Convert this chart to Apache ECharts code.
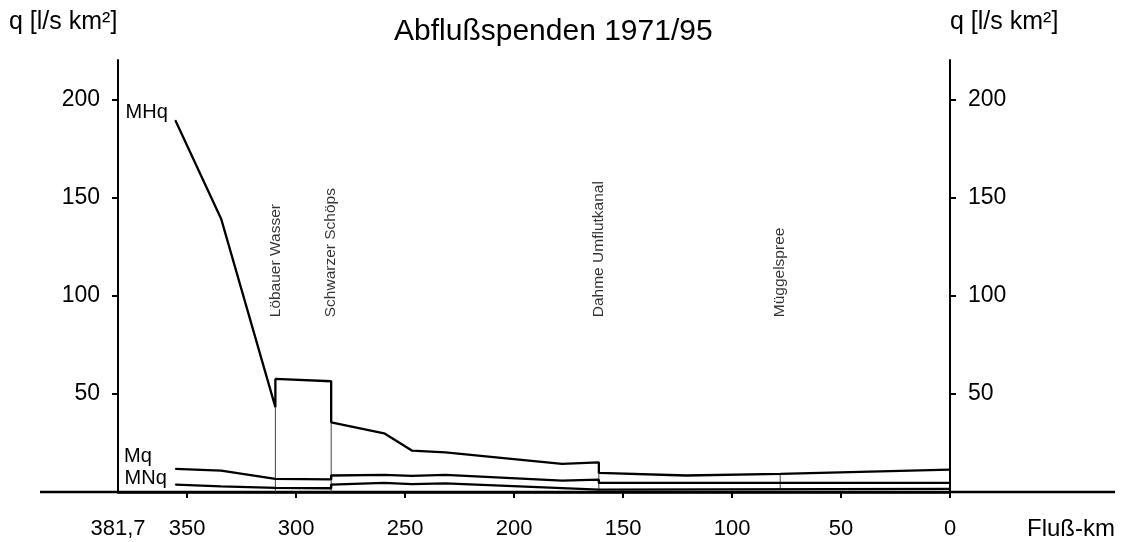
<!DOCTYPE html>
<html>
<head>
<meta charset="utf-8">
<script src="https://cdn.jsdelivr.net/npm/echarts@6/dist/echarts.min.js"></script>
<style>
  html, body { margin: 0; padding: 0; background: #fff; }
  #chart { width: 1123px; height: 542px; }
</style>
</head>
<body>
<div id="chart"></div>
<script>
// Fluß-km (reversed axis) and Abflußspende q [l/s km²]
const kmMHq = [355.4, 334.4, 309.5, 309.5, 283.9, 283.9, 259.6, 246.9, 231.5, 178.0, 161.1, 161.1, 121.1, 77.9, 0];
const qMHq  = [189.3, 139.2, 43.2, 57.6, 56.4, 35.5, 29.9, 21.1, 20.2, 14.3, 15.1, 9.7, 8.4, 9.2, 11.4];

const kmMq = [355.4, 334.4, 309.5, 283.9, 283.9, 259.6, 246.9, 231.5, 178.0, 161.1, 161.1, 0];
const qMq  = [11.8, 10.9, 6.7, 6.4, 8.4, 8.7, 8.2, 8.7, 5.8, 6.3, 4.6, 4.6];

const kmMNq = [355.4, 334.4, 309.5, 283.9, 283.9, 259.6, 246.9, 231.5, 161.1, 161.1, 0];
const qMNq  = [3.8, 2.9, 2.1, 1.9, 3.8, 4.6, 4.0, 4.4, 1.2, 1.6, 1.6];

// tributaries (Zuflüsse)
const tribNames  = ['Löbauer Wasser', 'Schwarzer Schöps', 'Dahme Umflutkanal', 'Müggelspree'];
const tribKm     = [309.5, 283.9, 161.1, 77.9];
const tribBottom = [0, 0, 0.7, 1.7];
const tribTop    = [43.2, 35.5, 9.7, 9.2];

const xTicks  = [0, 50, 100, 150, 200, 250, 300, 350];
const xLabels = [0, 50, 100, 150, 200, 250, 300, 350, 381.7];
const yTicks  = [50, 100, 150, 200];

const font = "'Liberation Sans', Arial, Helvetica, sans-serif";
const chart = echarts.init(document.getElementById('chart'));

function mainLine(name, km, q, lbl) {
  const data = km.map((k, i) => [k, q[i]]);
  data[0] = {
    value: data[0],
    symbol: 'circle',
    symbolSize: 1,
    label: {
      show: true,
      formatter: name,
      position: 'left',
      distance: lbl.distance,
      offset: [0, lbl.dy],
      color: '#000',
      fontSize: 20,
      fontFamily: font
    }
  };
  return {
    name: name,
    type: 'line',
    data: data,
    symbol: 'none',
    showSymbol: true,
    lineStyle: { color: '#000', width: 2.3 },
    itemStyle: { color: '#000' },
    silent: true,
    animation: false,
    z: 3
  };
}

const tribLines = tribKm.map((k, i) => ({
  type: 'line',
  data: [[k, tribBottom[i]], [k, tribTop[i]]],
  symbol: 'none',
  lineStyle: { color: '#444', width: 1 },
  silent: true,
  animation: false,
  z: 2
}));

const tribLabels = {
  type: 'scatter',
  data: tribKm.map((k, i) => ({ value: [k, 89], name: tribNames[i] })),
  symbolSize: 1,
  itemStyle: { color: 'rgba(0,0,0,0)' },
  label: {
    show: true,
    formatter: p => p.name,
    position: 'inside',
    rotate: 90,
    align: 'left',
    verticalAlign: 'middle',
    color: '#000',
    fontSize: 15.5,
    fontFamily: font
  },
  silent: true,
  animation: false
};

const yAxisBase = {
  type: 'value',
  min: 0,
  max: 220,
  interval: 50,
  splitLine: { show: false },
  axisLine: { show: true, onZero: false, lineStyle: { color: '#000', width: 2 } },
  axisTick: { show: true, inside: false, customValues: yTicks, length: 6, lineStyle: { color: '#000', width: 2 } },
  axisLabel: { customValues: yTicks, margin: 18, color: '#000', fontSize: 23, fontFamily: font }
};

chart.setOption({
  backgroundColor: '#fff',
  animation: false,
  title: [
    { text: 'Abflußspenden 1971/95', left: 389, top: 12,
      textStyle: { fontSize: 30, fontWeight: 'normal', color: '#000', fontFamily: font } },
    { text: 'q [l/s km²]', left: 4, top: 5,
      textStyle: { fontSize: 25, fontWeight: 'normal', color: '#000', fontFamily: font } },
    { text: 'q [l/s km²]', left: 945, top: 5,
      textStyle: { fontSize: 25, fontWeight: 'normal', color: '#000', fontFamily: font } },
    { text: 'Fluß-km', left: 1022, top: 512,
      textStyle: { fontSize: 24, fontWeight: 'normal', color: '#000', fontFamily: font } }
  ],
  grid: { left: 118, right: 173, top: 60, bottom: 50, outerBoundsMode: 'none' },
  xAxis: {
    type: 'value',
    inverse: true,
    min: 0,
    max: 381.7,
    interval: 50,
    splitLine: { show: false },
    axisLine: { show: true, onZero: false, lineStyle: { color: '#000', width: 2.5 } },
    axisTick: { show: true, customValues: xTicks, length: 6, lineStyle: { color: '#000', width: 2 } },
    axisLabel: {
      customValues: xLabels,
      margin: 26,
      color: '#000',
      fontSize: 22,
      fontFamily: font,
      formatter: v => String(v).replace('.', ',')
    }
  },
  yAxis: [
    Object.assign({}, yAxisBase, { position: 'left' }),
    Object.assign({}, yAxisBase, { position: 'right' })
  ],
  graphic: [{
    type: 'line',
    shape: { x1: 40, y1: 492, x2: 1115, y2: 492 },
    style: { stroke: '#000', lineWidth: 2.5 },
    silent: true
  }],
  series: [
    mainLine('MHq', kmMHq, qMHq, { distance: 7, dy: -8 }),
    mainLine('Mq', kmMq, qMq, { distance: 23, dy: -12 }),
    mainLine('MNq', kmMNq, qMNq, { distance: 8, dy: -6 })
  ].concat(tribLines, [tribLabels])
});
</script>
</body>
</html>
